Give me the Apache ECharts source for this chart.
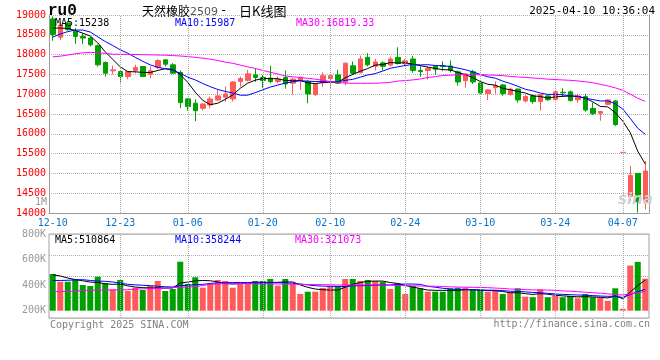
<!DOCTYPE html>
<html><head><meta charset="utf-8">
<script src="https://cdn.jsdelivr.net/npm/echarts@6/dist/echarts.min.js"></script>
<style>html,body{margin:0;padding:0;background:#fff}#c{width:660px;height:360px}</style>
</head><body><div id="c"></div>
<script>
const dates = ['12-10','12-11','12-12','12-13','12-16','12-17','12-18','12-19','12-20','12-23',
'12-24','12-25','12-26','12-27','12-30','12-31','01-02','01-03','01-06','01-07',
'01-08','01-09','01-10','01-13','01-14','01-15','01-16','01-17','01-20','01-21',
'01-22','01-23','01-24','01-27','02-05','02-06','02-07','02-10','02-11','02-12',
'02-13','02-14','02-17','02-18','02-19','02-20','02-21','02-24','02-25','02-26',
'02-27','02-28','03-03','03-04','03-05','03-06','03-07','03-10','03-11','03-12',
'03-13','03-14','03-17','03-18','03-19','03-20','03-21','03-24','03-25','03-26',
'03-27','03-28','03-31','04-01','04-02','04-03','04-07','04-08','04-09','04-10'];

const open = [18900,18440,18800,18590,18459,18417,18223,17801,17590,17573,
17446,17598,17699,17505,17674,17868,17742,17547,16881,16771,
16644,16729,16855,16923,16881,17320,17350,17488,17421,17404,
17320,17421,17277,17355,17320,16990,17290,17395,17488,17300,
17716,17545,17930,17705,17790,17735,17930,17775,17890,17600,
17600,17700,17720,17710,17565,17340,17565,17285,17015,17165,
17235,16995,17130,16830,16957,16813,16957,16865,17050,17060,
16860,16940,16640,16520,16745,16830,15530,14420,15000,14281];
const close = [18510,18740,18630,18459,18417,18248,17742,17531,17615,17446,
17573,17674,17446,17590,17851,17758,17531,16788,16687,16585,
16754,16881,16957,17007,17310,17395,17514,17421,17345,17320,
17379,17260,17380,17425,17007,17250,17468,17468,17277,17784,
17531,17890,17742,17815,17705,17890,17775,17845,17600,17570,
17650,17630,17700,17598,17310,17510,17310,17030,17109,17215,
17015,17130,16855,16940,16813,16990,16860,17060,17035,16840,
16955,16600,16510,16560,16855,16230,15530,14950,14281,15060];
const low = [18350,18370,18600,18273,18265,18206,17699,17446,17500,17277,
17379,17531,17440,17404,17632,17699,17514,16644,16585,16320,
16585,16644,16830,16813,16813,17193,17320,17310,17160,17280,
17277,17140,16990,17110,16771,16957,17180,17155,17260,17220,
17480,17520,17700,17600,17600,17700,17750,17720,17540,17440,
17370,17490,17590,17550,17215,17165,17260,16982,16855,17015,
16960,16960,16788,16790,16760,16585,16830,16830,16930,16815,
16780,16560,16475,16330,16720,16200,15530,14300,14010,14090];
const high = [18960,18820,18850,18670,18543,18450,18250,17830,17720,17580,
17590,17742,17710,17699,17885,17880,17784,17598,16900,16872,
16770,16940,17109,17193,17330,17446,17615,17650,17488,17720,
17446,17598,17420,17450,17362,17265,17550,17480,17615,17800,
17826,17975,18037,17890,17830,17950,18185,17890,17970,17700,
17700,17716,17830,17851,17598,17530,17615,17300,17130,17320,
17260,17160,17140,16982,16990,17000,16975,17080,17151,17090,
17010,17010,16790,16580,16870,16850,15530,15190,15010,15311];

const ma5 = [18670,18670,18660,18610,18540,18470,18295,18070,17880,17690,
17570,17565,17550,17548,17600,17645,17628,17495,17300,17050,
16845,16735,16772,16870,16980,17150,17280,17355,17395,17395,
17390,17347,17338,17345,17287,17267,17295,17305,17297,17415,
17500,17580,17648,17735,17748,17800,17788,17795,17758,17720,
17685,17650,17620,17615,17550,17495,17420,17320,17252,17228,
17150,17110,17070,17030,16960,16940,16905,16932,16946,16953,
16945,16899,16808,16692,16680,16535,16320,16030,15560,15238];
const ma10 = [18440,18520,18580,18620,18620,18570,18450,18330,18230,18120,
18035,17930,17830,17740,17680,17640,17605,17530,17430,17360,
17270,17190,17120,17070,17030,16975,16975,17040,17110,17180,
17230,17280,17315,17340,17330,17320,17315,17315,17315,17350,
17375,17430,17485,17520,17585,17655,17690,17725,17750,17740,
17745,17725,17718,17700,17660,17618,17565,17500,17440,17405,
17330,17270,17200,17125,17085,17030,16995,16995,16985,16955,
16948,16900,16865,16830,16830,16760,16625,16390,16140,15987];
const ma30 = [17945,17960,17990,18020,18045,18055,18050,18030,18010,18008,
18006,18002,17998,17995,17990,17985,17975,17965,17950,17930,
17910,17885,17850,17810,17780,17735,17690,17650,17600,17555,
17510,17460,17440,17420,17400,17380,17350,17320,17300,17280,
17275,17275,17275,17277,17285,17300,17330,17345,17360,17385,
17420,17445,17470,17480,17490,17492,17492,17490,17485,17478,
17470,17450,17435,17425,17410,17395,17380,17370,17360,17350,
17335,17315,17290,17250,17210,17160,17100,17000,16900,16819];

const volume = [613000,484000,484000,524000,429000,412000,568000,458000,357000,513000,
329000,384000,346000,412000,496000,329000,362000,818000,446000,558000,
384000,446000,513000,496000,384000,446000,446000,496000,496000,529000,
418000,529000,441000,279000,317000,317000,379000,412000,412000,529000,
529000,496000,513000,496000,484000,362000,458000,279000,412000,374000,
317000,317000,317000,374000,384000,384000,346000,346000,317000,346000,
279000,307000,374000,234000,224000,357000,224000,245000,224000,245000,
207000,279000,224000,224000,167000,374000,33000,755000,815000,535000];
const volMa5 = [600000,580000,545000,520000,500000,478000,470000,450000,440000,445000,
415000,395000,385000,380000,382000,378000,380000,462000,478000,498000,
505000,500000,480000,455000,445000,455000,458000,462000,462000,470000,
474000,480000,480000,430000,390000,362000,350000,345000,345000,392000,
440000,470000,490000,495000,495000,470000,455000,420000,395000,370000,
345000,340000,340000,340000,340000,350000,352000,345000,336000,335000,
320000,300000,300000,285000,272000,285000,275000,258000,248000,240000,
232000,235000,230000,225000,212000,248000,200000,312000,420000,510864];
const volMa10 = [505000,505000,508000,515000,518000,505000,495000,490000,480000,460000,
440000,432000,425000,418000,408000,400000,395000,418000,425000,435000,
440000,455000,465000,468000,470000,472000,470000,475000,472000,470000,
468000,466000,458000,446000,430000,418000,410000,408000,405000,405000,
415000,418000,420000,425000,430000,430000,440000,445000,445000,440000,
408000,392000,375000,362000,355000,352000,348000,345000,343000,342000,
335000,325000,322000,315000,305000,300000,290000,280000,272000,268000,
262000,258000,252000,245000,240000,240000,222000,268000,318000,358244];
const volMa30 = [320000,320000,322000,325000,338000,342000,345000,345000,346000,348000,
350000,360000,365000,368000,370000,372000,385000,392000,395000,400000,
420000,440000,448000,450000,450000,452000,452000,450000,448000,446000,
446000,445000,442000,440000,438000,436000,435000,432000,430000,430000,
430000,430000,430000,430000,428000,425000,422000,418000,415000,412000,
410000,408000,404000,398000,395000,392000,390000,388000,385000,378000,
372000,362000,358000,352000,348000,346000,345000,340000,330000,325000,
318000,308000,300000,292000,282000,270000,262000,282000,300000,321073];

const tickDates = ['12-10','12-23','01-06','01-20','02-10','02-24','03-10','03-24','04-07'];
const priceMin = 14000, priceMax = 19000, priceStep = 500;
const volTickLabels = [200000, 400000, 600000, 800000];

const UP = '#ff5a5a', DOWN = '#00a000';
const MONO = '"DejaVu Sans Mono", monospace';
const CJK = '"Noto Sans CJK SC", sans-serif';

const candleData = dates.map((d, i) => [open[i], close[i], low[i], high[i]]);
const volData = volume.map((v, i) => ({ value: v, itemStyle: { color: close[i] >= open[i] ? UP : DOWN } }));
const gridMarks = {
  silent: true, symbol: ['none', 'none'], label: { show: false }, animation: false,
  lineStyle: { type: 'dotted', color: '#aaaaaa', width: 1 },
  emphasis: { disabled: true },
  data: tickDates.slice(1).map(d => ({ xAxis: d }))
};

function txt(x, y, text, color, font, align) {
  return { type: 'text', x: x, y: y, silent: true, z: 100,
    style: { text: text, fill: color, font: font, align: align || 'left', verticalAlign: 'middle',
      textAlign: align || 'left', textVerticalAlign: 'middle' } };
}

const chart = echarts.init(document.getElementById('c'), null, { renderer: 'canvas' });
chart.setOption({
  animation: false,
  backgroundColor: '#ffffff',
  grid: [
    { left: 49, right: 11, top: 15, height: 198 },
    { left: 49, right: 11, top: 234, height: 84, show: true, borderColor: '#a0a0a0', borderWidth: 1 }
  ],
  xAxis: [
    { type: 'category', gridIndex: 0, data: dates, boundaryGap: true,
      axisLine: { lineStyle: { color: '#999999', width: 1 } }, axisTick: { show: false },
      axisLabel: { interval: (idx, val) => tickDates.indexOf(val) >= 0, color: '#0a74c8',
        fontFamily: MONO, fontSize: 10, margin: 5 },
      splitLine: { show: false } },
    { type: 'category', gridIndex: 1, data: dates, boundaryGap: true,
      axisLine: { show: false }, axisTick: { show: false }, axisLabel: { show: false }, splitLine: { show: false } }
  ],
  yAxis: [
    { type: 'value', gridIndex: 0, position: 'left', min: priceMin, max: priceMax, interval: priceStep,
      axisLine: { show: true, lineStyle: { color: '#999999' } }, axisTick: { show: false },
      axisLabel: { color: '#ff0000', fontFamily: MONO, fontSize: 10, margin: 3, formatter: v => String(v) },
      splitLine: { show: true, lineStyle: { type: 'dotted', color: '#b0b0b0' } } },
    { type: 'value', gridIndex: 0, position: 'right', min: priceMin, max: priceMax, interval: priceStep,
      axisLine: { show: true, lineStyle: { color: '#999999' } }, axisTick: { show: false },
      axisLabel: { show: false }, splitLine: { show: false } },
    { type: 'value', gridIndex: 1, position: 'right', min: -122000, max: 1281000, show: false, splitLine: { show: false } },
    { type: 'value', gridIndex: 1, position: 'right', min: 0, max: 4, interval: 1,
      axisLine: { show: false }, axisTick: { show: false }, axisLabel: { show: false },
      splitLine: { show: true, lineStyle: { type: 'dotted', color: '#b0b0b0' } } },
    { type: 'value', gridIndex: 1, position: 'left', min: 141000, max: 800000, splitNumber: 3,
      axisLine: { show: false }, axisTick: { show: false }, splitLine: { show: false },
      axisLabel: { customValues: volTickLabels, color: '#999999', fontFamily: MONO, fontSize: 10, margin: 3,
        formatter: v => (v / 1000) + 'K' } }
  ],
  series: [
    { type: 'candlestick', xAxisIndex: 0, yAxisIndex: 0, data: candleData, barWidth: 5,
      itemStyle: { color: UP, color0: DOWN, borderColor: UP, borderColor0: DOWN, borderColorDoji: UP, borderWidth: 1 },
      emphasis: { disabled: true }, markLine: gridMarks },
    { type: 'line', name: 'MA5', xAxisIndex: 0, yAxisIndex: 0, data: ma5, symbol: 'none', lineStyle: { width: 1, color: '#000000' }, itemStyle: { color: '#000000' } },
    { type: 'line', name: 'MA10', xAxisIndex: 0, yAxisIndex: 0, data: ma10, symbol: 'none', lineStyle: { width: 1, color: '#0000ff' }, itemStyle: { color: '#0000ff' } },
    { type: 'line', name: 'MA30', xAxisIndex: 0, yAxisIndex: 0, data: ma30, symbol: 'none', lineStyle: { width: 1, color: '#ff00ff' }, itemStyle: { color: '#ff00ff' } },
    { type: 'bar', xAxisIndex: 1, yAxisIndex: 2, data: volData, barWidth: 6, emphasis: { disabled: true }, markLine: gridMarks },
    { type: 'line', xAxisIndex: 1, yAxisIndex: 2, data: volMa5, symbol: 'none', lineStyle: { width: 1, color: '#000000' }, itemStyle: { color: '#000000' } },
    { type: 'line', xAxisIndex: 1, yAxisIndex: 2, data: volMa10, symbol: 'none', lineStyle: { width: 1, color: '#0000ff' }, itemStyle: { color: '#0000ff' } },
    { type: 'line', xAxisIndex: 1, yAxisIndex: 2, data: volMa30, symbol: 'none', lineStyle: { width: 1, color: '#ff00ff' }, itemStyle: { color: '#ff00ff' } }
  ],
  graphic: [
    txt(48, 11, 'ru0', '#000000', 'bold 16px "Liberation Mono", monospace'),
    txt(142, 11, '天然橡胶', '#000000', '12px ' + CJK),
    txt(190, 12, '2509', '#555555', '11px "DejaVu Sans", sans-serif'),
    txt(220, 11, '-', '#000000', '12px ' + MONO),
    txt(239, 11, '日K线图', '#000000', '13px ' + CJK),
    txt(655, 11, '2025-04-10 10:36:04', '#000000', '11px ' + MONO, 'right'),
    txt(55, 23, 'MA5:15238', '#000000', '10px ' + MONO),
    txt(175, 23, 'MA10:15987', '#0000ff', '10px ' + MONO),
    txt(296, 23, 'MA30:16819.33', '#ff00ff', '10px ' + MONO),
    txt(55, 240, 'MA5:510864', '#000000', '10px ' + MONO),
    txt(175, 240, 'MA10:358244', '#0000ff', '10px ' + MONO),
    txt(295, 240, 'MA30:321073', '#ff00ff', '10px ' + MONO),
    txt(47, 202, '1M', '#999999', '10px ' + MONO, 'right'),
    txt(618, 200, 'sina', '#d0d0d0', 'italic bold 15px "DejaVu Sans", sans-serif'),
    txt(50, 325, 'Copyright 2025 SINA.COM', '#808080', '10px ' + MONO),
    txt(650, 324, 'http://finance.sina.com.cn', '#808080', '10px ' + MONO, 'right')
  ]
});
</script>
</body></html>
